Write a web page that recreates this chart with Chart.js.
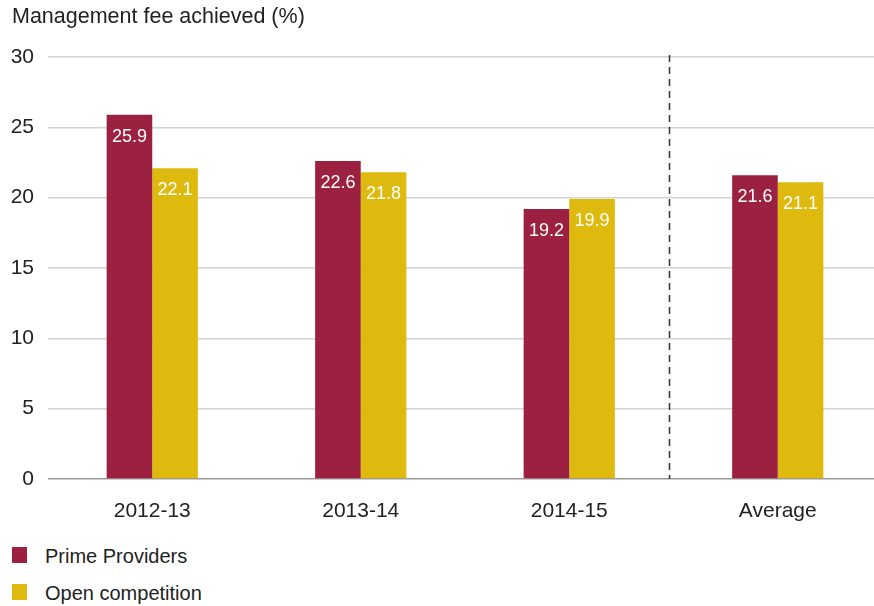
<!DOCTYPE html>
<html>
<head>
<meta charset="utf-8">
<script src="https://cdn.jsdelivr.net/npm/chart.js@4.4.1/dist/chart.umd.min.js"></script>
<style>
  body { margin: 0; background: #fff; overflow: hidden; font-family: "Liberation Sans", Arial, sans-serif; }
  #wrap { position: relative; width: 874px; height: 606px; overflow: hidden; }
  #fees { position: absolute; left: 0; top: 0; }
  .title { position: absolute; left: 12px; top: 4px; color: #222; font-size: 21.5px; }
  .legend { position: absolute; left: 12px; top: 542px; color: #222; font-size: 20px; }
  .legend div { position: relative; height: 37px; line-height: 28px; padding-left: 33px; }
  .legend span { position: absolute; left: 0; top: 5px; width: 15px; height: 16px; }
</style>
</head>
<body>
<div id="wrap">
  <canvas id="fees" width="882" height="530"></canvas>
  <div class="title">Management fee achieved (%)</div>
  <div class="legend" id="legend"></div>
</div>
<script>
const categories = ['2012-13', '2013-14', '2014-15', 'Average'];
const primeProviders = [25.9, 22.6, 19.2, 21.6];
const openCompetition = [22.1, 21.8, 19.9, 21.1];
const yTicks = [0, 5, 10, 15, 20, 25, 30];

const seriesNames = ['Prime Providers', 'Open competition'];
const seriesColors = ['#9c2141', '#dfba0e'];
const fontFamily = '"Liberation Sans", Arial, sans-serif';

// white value labels just inside the top of each bar
const barLabels = {
    id: 'barLabels',
    afterDatasetsDraw(chart) {
        const ctx = chart.ctx;
        ctx.save();
        ctx.fillStyle = '#fff';
        ctx.font = '18px ' + fontFamily;
        ctx.textAlign = 'center';
        ctx.textBaseline = 'middle';
        chart.data.datasets.forEach(function(ds, i) {
            chart.getDatasetMeta(i).data.forEach(function(bar, j) {
                ctx.fillText(ds.data[j].toFixed(1), bar.x, bar.y + 22);
            });
        });
        ctx.restore();
    }
};

// dashed separator between the yearly bars and the average
const averageDivider = {
    id: 'averageDivider',
    afterDraw(chart) {
        const x = chart.scales.x;
        const area = chart.chartArea;
        const px = (x.getPixelForValue(2) + x.getPixelForValue(3)) / 2 - 4;
        const ctx = chart.ctx;
        ctx.save();
        ctx.strokeStyle = '#333';
        ctx.lineWidth = 1.5;
        ctx.setLineDash([7, 5]);
        ctx.beginPath();
        ctx.moveTo(px, area.top - 2);
        ctx.lineTo(px, area.bottom);
        ctx.stroke();
        ctx.restore();
    }
};

new Chart(document.getElementById('fees'), {
    type: 'bar',
    data: {
        labels: categories,
        datasets: [
            { label: seriesNames[0], data: primeProviders, backgroundColor: seriesColors[0] },
            { label: seriesNames[1], data: openCompetition, backgroundColor: seriesColors[1] }
        ]
    },
    options: {
        responsive: false,
        animation: false,
        layout: { padding: { left: 0, right: 0, top: 57, bottom: 0 } },
        datasets: { bar: { categoryPercentage: 0.4375, barPercentage: 1 } },
        plugins: {
            legend: { display: false },
            tooltip: { enabled: false }
        },
        scales: {
            x: {
                grid: { display: false },
                border: { display: false },
                ticks: { color: '#222', padding: 12, font: { family: fontFamily, size: 21 } },
                afterFit(scale) { scale.height = 51; }
            },
            y: {
                min: 0,
                max: 30,
                afterBuildTicks(scale) { scale.ticks = yTicks.map(v => ({ value: v })); },
                grid: {
                    color: ctx => ctx.tick.value === 0 ? '#999' : '#d2d2d2',
                    lineWidth: 1.5,
                    drawTicks: false
                },
                border: { display: false },
                ticks: { color: '#222', padding: 14, font: { family: fontFamily, size: 21 } },
                afterFit(scale) { scale.width = 48; }
            }
        }
    },
    plugins: [barLabels, averageDivider]
});

// legend stacked under the chart
const legend = document.getElementById('legend');
seriesNames.forEach(function(name, i) {
    const row = document.createElement('div');
    const swatch = document.createElement('span');
    swatch.style.background = seriesColors[i];
    row.appendChild(swatch);
    row.appendChild(document.createTextNode(name));
    legend.appendChild(row);
});
</script>
</body>
</html>
